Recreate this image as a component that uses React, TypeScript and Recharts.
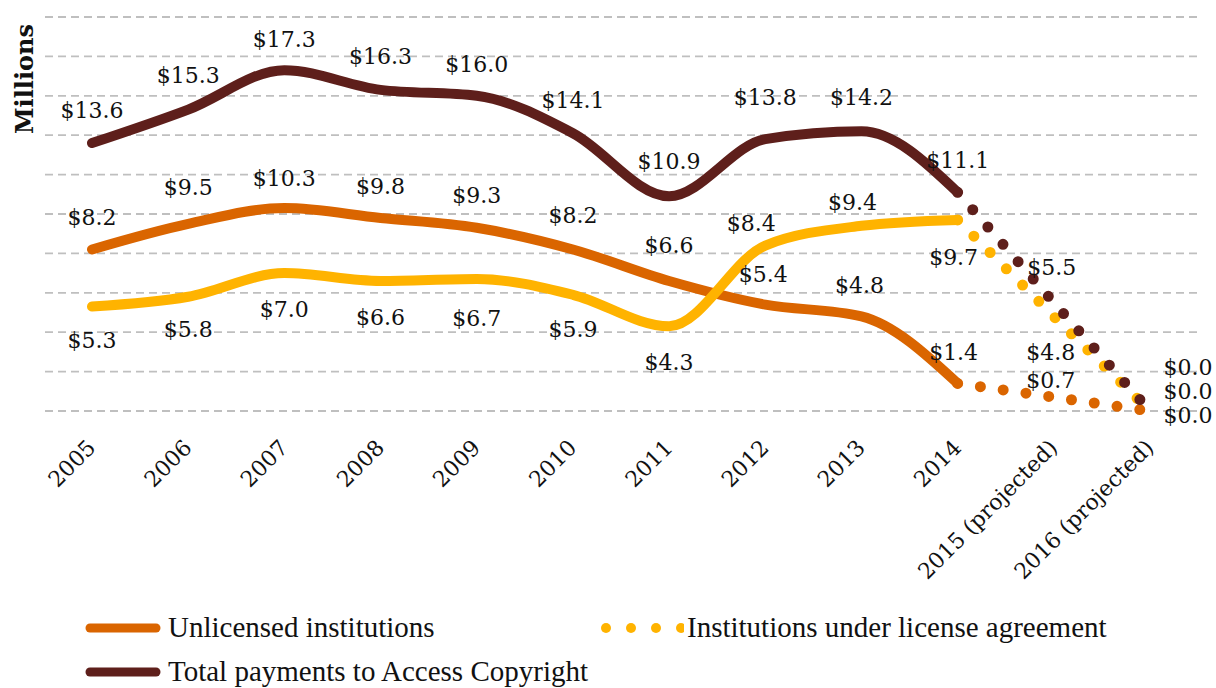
import React from 'react';
import { LineChart, Line, XAxis, YAxis, CartesianGrid, LabelList } from 'recharts';

const years = [
  '2005', '2006', '2007', '2008', '2009', '2010', '2011', '2012', '2013', '2014',
  '2015 (projected)', '2016 (projected)',
];
const unlicensed = [8.2, 9.5, 10.3, 9.8, 9.3, 8.2, 6.6, 5.4, 4.8, 1.4, 0.7, 0.0];
const licensed = [5.3, 5.8, 7.0, 6.6, 6.7, 5.9, 4.3, 8.4, 9.4, 9.7, 4.8, 0.0];
const total = [13.6, 15.3, 17.3, 16.3, 16.0, 14.1, 10.9, 13.8, 14.2, 11.1, 5.5, 0.0];
const yTicks = [0, 2, 4, 6, 8, 10, 12, 14, 16, 18, 20];
const lastActual = 9; // 2014, after this the values are projections

const colors = {
  unlicensed: '#DA6500',
  licensed: '#FFB300',
  total: '#5E1F1B',
};

const serif = '"DejaVu Serif", serif';

// label placement per point: [dx, dy]
const totalPlace: [number, number][] = [
  [0, -33], [0, -34], [0, -31], [0, -33], [0, -31], [0, -33], [0, -35], [0, -42], [0, -34], [0, -32],
  [-2, -35], [38, -44],
];
const unlicPlace: [number, number][] = [
  [0, -32], [0, -36], [0, -30], [0, -31], [0, -32], [0, -34], [0, -35], [-2, -30], [-2, -31], [-4, -31],
  [-3, -17], [38, -20],
];
const licPlace: [number, number][] = [
  [0, 34], [0, 33], [0, 36], [0, 37], [0, 39], [0, 35], [0, 36], [-14, -22], [-9, -23], [-4, 38],
  [-3, 36], [38, 4],
];

const data = years.map((year, i) => ({
  year,
  unlic: i <= lastActual ? unlicensed[i] : null,
  unlicP: i >= lastActual ? unlicensed[i] : null,
  lic: i <= lastActual ? licensed[i] : null,
  licP: i >= lastActual ? licensed[i] : null,
  tot: i <= lastActual ? total[i] : null,
  totP: i >= lastActual ? total[i] : null,
}));

const makeLabel = (place: [number, number][], projected: boolean) => (props: any) => {
  const { x, y, value, index } = props;
  if (value == null || x == null || y == null) return null;
  if (projected && index <= lastActual) return null;
  const [dx, dy] = place[index];
  return (
    <text
      x={x + dx}
      y={y + dy}
      textAnchor="middle"
      dominantBaseline="central"
      fontFamily={serif}
      fontSize={22}
      fill="#111"
    >
      ${Number(value).toFixed(1)}
    </text>
  );
};

const YearTick = (props: any) => {
  const { x, y, payload } = props;
  const tx = x + 5;
  const ty = y + 38;
  return (
    <text
      x={tx}
      y={ty}
      transform={`rotate(-45, ${tx}, ${ty})`}
      textAnchor="end"
      fontFamily={serif}
      fontSize={22}
      fill="#111"
    >
      {payload.value}
    </text>
  );
};

const EmptyTick = () => <g />;

const legendText: React.CSSProperties = {
  position: 'absolute',
  fontFamily: '"Liberation Serif", serif',
  fontSize: 29,
  color: '#111',
  lineHeight: '30px',
  whiteSpace: 'nowrap',
};

function LegendDots({ left, top, color }: { left: number; top: number; color: string }) {
  return (
    <svg style={{ position: 'absolute', left, top }} width={84} height={14}>
      {[0, 1, 2, 3].map((k) => (
        <circle key={k} cx={6 + k * 25} cy={7} r={5} fill={color} />
      ))}
    </svg>
  );
}

function LegendLine({ left, top, color }: { left: number; top: number; color: string }) {
  return (
    <svg style={{ position: 'absolute', left, top }} width={80} height={14}>
      <line x1={6} y1={7} x2={72} y2={7} stroke={color} strokeWidth={9} strokeLinecap="round" />
    </svg>
  );
}

export default function App() {
  const dotted = {
    type: 'linear' as const,
    strokeWidth: 11,
    strokeLinecap: 'round' as const,
    strokeDasharray: '0 23',
    dot: false,
    activeDot: false,
    isAnimationActive: false,
  };
  const solid = {
    type: 'monotone' as const,
    strokeWidth: 10,
    strokeLinecap: 'round' as const,
    dot: false,
    activeDot: false,
    isAnimationActive: false,
  };
  return (
    <div style={{ position: 'absolute', left: 0, top: 0, width: 1216, height: 688, background: '#fff' }}>
      <LineChart
        width={1216}
        height={688}
        data={data}
        margin={{ top: 17, right: 16, bottom: 0, left: 45 }}
      >
        <CartesianGrid
          vertical={false}
          stroke="#BFBFBF"
          strokeWidth={1.8}
          strokeDasharray="8 5"
        />
        <XAxis
          dataKey="year"
          axisLine={false}
          tickLine={false}
          tickSize={0}
          tickMargin={0}
          interval={0}
          height={277}
          padding={{ left: 47, right: 50 }}
          tick={<YearTick />}
        />
        <YAxis
          domain={[0, 20]}
          ticks={yTicks}
          interval={0}
          width={0}
          axisLine={false}
          tickLine={false}
          tick={<EmptyTick />}
        />
        <Line dataKey="unlicP" stroke={colors.unlicensed} {...dotted}>
          <LabelList dataKey="unlicP" content={makeLabel(unlicPlace, true)} />
        </Line>
        <Line dataKey="licP" stroke={colors.licensed} {...dotted}>
          <LabelList dataKey="licP" content={makeLabel(licPlace, true)} />
        </Line>
        <Line dataKey="totP" stroke={colors.total} {...dotted}>
          <LabelList dataKey="totP" content={makeLabel(totalPlace, true)} />
        </Line>
        <Line dataKey="unlic" stroke={colors.unlicensed} {...solid}>
          <LabelList dataKey="unlic" content={makeLabel(unlicPlace, false)} />
        </Line>
        <Line dataKey="lic" stroke={colors.licensed} {...solid}>
          <LabelList dataKey="lic" content={makeLabel(licPlace, false)} />
        </Line>
        <Line dataKey="tot" stroke={colors.total} {...solid}>
          <LabelList dataKey="tot" content={makeLabel(totalPlace, false)} />
        </Line>
        <text
          x={0}
          y={0}
          transform="translate(33, 79) rotate(-90)"
          textAnchor="middle"
          fontFamily={serif}
          fontWeight="bold"
          fontSize={24}
          fill="#111"
        >
          Millions
        </text>
      </LineChart>

      <LegendLine left={84} top={621} color={colors.unlicensed} />
      <div style={{ ...legendText, left: 168, top: 612 }}>Unlicensed institutions</div>
      <LegendDots left={600} top={621} color={colors.licensed} />
      <div style={{ ...legendText, left: 687, top: 612 }}>Institutions under license agreement</div>
      <LegendLine left={84} top={665} color={colors.total} />
      <div style={{ ...legendText, left: 168, top: 656 }}>Total payments to Access Copyright</div>
    </div>
  );
}
